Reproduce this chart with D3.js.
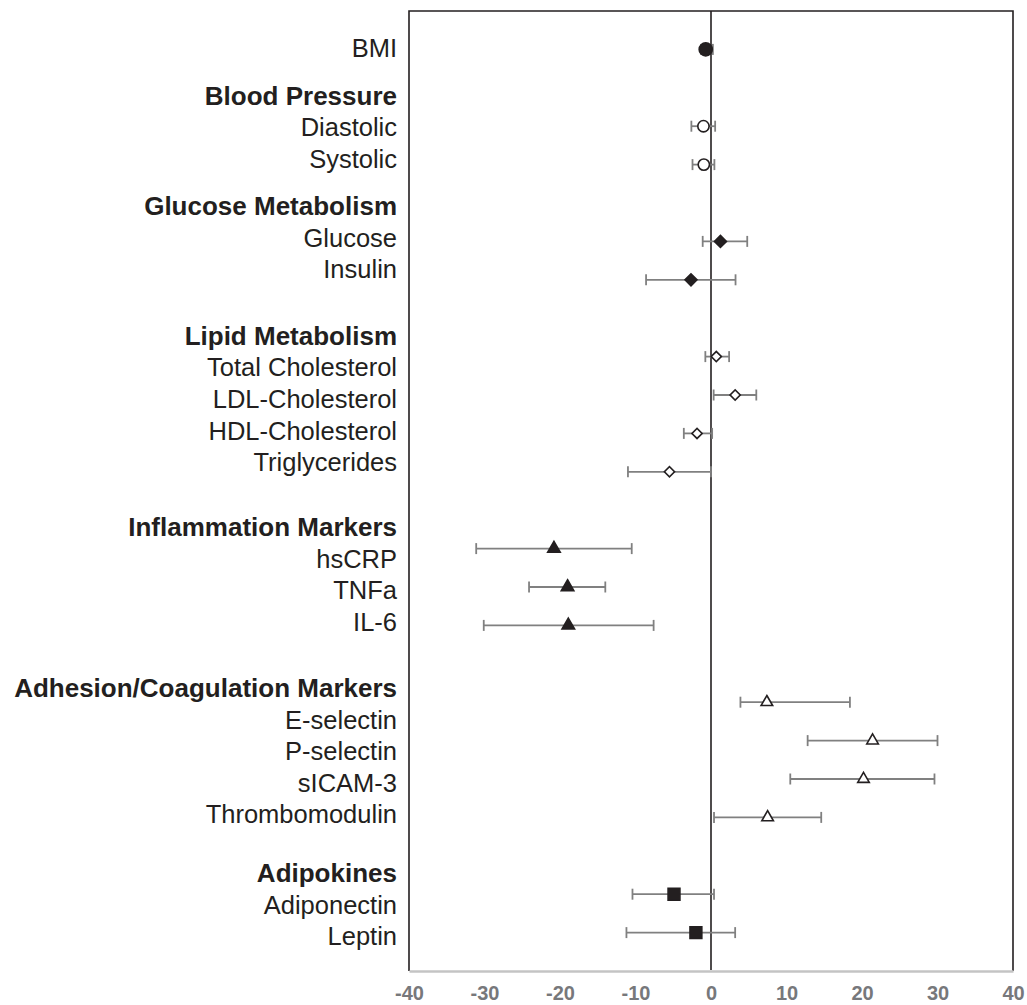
<!DOCTYPE html>
<html>
<head>
<meta charset="utf-8">
<script src="https://cdn.jsdelivr.net/npm/d3@7"></script>
<style>
  body { margin: 0; background: #fff; }
  svg { display: block; }
</style>
</head>
<body>
<div id="chart"></div>
<script>
// rows of the figure, top to bottom (group headers take a row too)
var rows = ["BMI", "Blood Pressure", "Diastolic", "Systolic",
    "Glucose Metabolism", "Glucose", "Insulin",
    "Lipid Metabolism", "Total Cholesterol", "LDL-Cholesterol", "HDL-Cholesterol", "Triglycerides",
    "Inflammation Markers", "hsCRP", "TNFa", "IL-6",
    "Adhesion/Coagulation Markers", "E-selectin", "P-selectin", "sICAM-3", "Thrombomodulin",
    "Adipokines", "Adiponectin", "Leptin"];

var headers = ["Blood Pressure", "Glucose Metabolism", "Lipid Metabolism",
    "Inflammation Markers", "Adhesion/Coagulation Markers", "Adipokines"];

// measures with an estimate
var measures = ["BMI", "Diastolic", "Systolic", "Glucose", "Insulin",
    "Total Cholesterol", "LDL-Cholesterol", "HDL-Cholesterol", "Triglycerides",
    "hsCRP", "TNFa", "IL-6",
    "E-selectin", "P-selectin", "sICAM-3", "Thrombomodulin",
    "Adiponectin", "Leptin"];

var measureGroup = ["BMI", "Blood Pressure", "Blood Pressure", "Glucose Metabolism", "Glucose Metabolism",
    "Lipid Metabolism", "Lipid Metabolism", "Lipid Metabolism", "Lipid Metabolism",
    "Inflammation Markers", "Inflammation Markers", "Inflammation Markers",
    "Adhesion/Coagulation Markers", "Adhesion/Coagulation Markers", "Adhesion/Coagulation Markers", "Adhesion/Coagulation Markers",
    "Adipokines", "Adipokines"];

var estimate = [-0.7, -1.0, -0.95, 1.25, -2.65, 0.7, 3.2, -1.85, -5.5,
    -20.8, -19.0, -18.9, 7.4, 21.4, 20.2, 7.5, -4.9, -2.0];
var lower = [-1.3, -2.6, -2.45, -1.1, -8.6, -0.75, 0.35, -3.6, -11.0,
    -31.1, -24.1, -30.1, 3.9, 12.8, 10.5, 0.4, -10.4, -11.2];
var upper = [0.25, 0.55, 0.45, 4.8, 3.25, 2.4, 6.0, 0.15, 0.0,
    -10.5, -14.0, -7.6, 18.4, 30.0, 29.6, 14.6, 0.4, 3.2];

var xTicks = [-40, -30, -20, -10, 0, 10, 20, 30, 40];

var width = 1027, height = 1005;
var plot = {left: 409, right: 1013, top: 11, bottom: 971};
var textColor = "#231f20";

var svg = d3.select("#chart")
    .append("svg")
    .attr("width", width)
    .attr("height", height);

var x = d3.scaleLinear()
    .domain([-40, 40])
    .range([plot.left, plot.right]);

// marker rows sit on an even grid, one step per row
var y = d3.scaleLinear()
    .domain([-1, rows.length])
    .range([plot.top, plot.bottom]);

// the label column is a text block with its own line spacing
var lineH = 31.6;
var headerStep = [1.5, 1.5, 2.1, 2.05, 2.1, 1.85];
var labelY = [];
var cur = 48, h = 0;
rows.forEach(function(r, i) {
    if (i > 0) {
        if (headers.indexOf(r) >= 0) { cur += headerStep[h] * lineH; h++; }
        else cur += lineH;
    }
    labelY.push(cur);
});

svg.append("g")
    .selectAll("text")
    .data(rows)
    .enter()
    .append("text")
    .attr("x", plot.left - 12)
    .attr("y", function(d, i) { return labelY[i]; })
    .attr("dy", "0.36em")
    .attr("text-anchor", "end")
    .style("font-family", "'Liberation Sans', Arial, sans-serif")
    .style("font-size", function(d) { return headers.indexOf(d) >= 0 ? "26px" : "25.5px"; })
    .style("font-weight", function(d) { return headers.indexOf(d) >= 0 ? "bold" : "normal"; })
    .style("fill", textColor)
    .text(function(d) { return d; });

// frame
var frame = svg.append("g");
frame.append("path")
    .attr("d", "M" + plot.left + "," + plot.bottom + "V" + plot.top + "H" + plot.right + "V" + plot.bottom)
    .attr("fill", "none")
    .attr("stroke", textColor)
    .attr("stroke-width", 1.6);

// x axis, labels only, along a grey base line
var xAxis = svg.append("g")
    .attr("transform", "translate(0," + plot.bottom + ")")
    .call(d3.axisBottom(x)
        .tickValues(xTicks)
        .tickSize(0)
        .tickPadding(15)
        .tickFormat(function(d) { return String(d); }));
xAxis.select(".domain")
    .attr("stroke", "#c4c4c4")
    .attr("stroke-width", 2.6);
xAxis.selectAll("text")
    .style("font-family", "'Liberation Sans', Arial, sans-serif")
    .style("font-size", "20px")
    .style("font-weight", "bold")
    .style("fill", "#77787b");

// zero line
svg.append("line")
    .attr("x1", x(0)).attr("x2", x(0))
    .attr("y1", plot.top).attr("y2", plot.bottom - 1)
    .attr("stroke", textColor)
    .attr("stroke-width", 1.6);

var data = measures.map(function(m, i) {
    return {name: m, group: measureGroup[i], est: estimate[i], lo: lower[i], hi: upper[i], row: rows.indexOf(m)};
});

// error bars
var bars = svg.append("g")
    .attr("stroke", "#808080")
    .attr("stroke-width", 1.8)
    .selectAll("g")
    .data(data)
    .enter()
    .append("g")
    .attr("transform", function(d) { return "translate(0," + y(d.row) + ")"; });
bars.append("line")
    .attr("x1", function(d) { return x(d.lo); })
    .attr("x2", function(d) { return x(d.hi); });
bars.append("line")
    .attr("x1", function(d) { return x(d.lo); })
    .attr("x2", function(d) { return x(d.lo); })
    .attr("y1", -5.5).attr("y2", 5.5);
bars.append("line")
    .attr("x1", function(d) { return x(d.hi); })
    .attr("x2", function(d) { return x(d.hi); })
    .attr("y1", -5.5).attr("y2", 5.5);

// marker style per group
var styles = {
    "BMI": {type: d3.symbolCircle, size: 135, fill: textColor, rot: 0},
    "Blood Pressure": {type: d3.symbolCircle, size: 100, fill: "#fff", rot: 0},
    "Glucose Metabolism": {type: d3.symbolSquare, size: 72, fill: textColor, rot: 45},
    "Lipid Metabolism": {type: d3.symbolSquare, size: 52, fill: "#fff", rot: 45},
    "Inflammation Markers": {type: d3.symbolTriangle, size: 68, fill: textColor, rot: 0},
    "Adhesion/Coagulation Markers": {type: d3.symbolTriangle, size: 58, fill: "#fff", rot: 0},
    "Adipokines": {type: d3.symbolSquare, size: 140, fill: textColor, rot: 0}
};

svg.append("g")
    .selectAll("path")
    .data(data)
    .enter()
    .append("path")
    .attr("d", function(d) {
        var s = styles[d.group];
        return d3.symbol().type(s.type).size(s.size)();
    })
    .attr("transform", function(d) {
        return "translate(" + x(d.est) + "," + y(d.row) + ") rotate(" + styles[d.group].rot + ")";
    })
    .attr("fill", function(d) { return styles[d.group].fill; })
    .attr("stroke", textColor)
    .attr("stroke-width", 1.6);
</script>
</body>
</html>
